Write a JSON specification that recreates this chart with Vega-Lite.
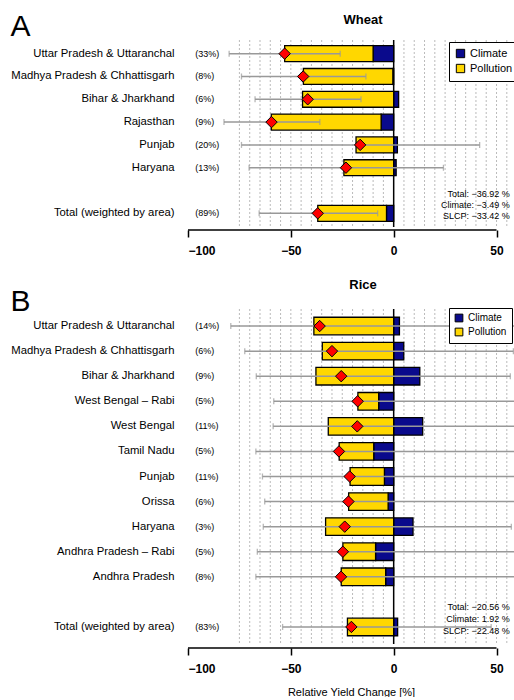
{
  "$schema": "https://vega.github.io/schema/vega-lite/v6.json",
  "padding": {"left": 10, "top": 11, "right": 0, "bottom": 0},
  "background": "white",
  "config": {"font": "Liberation Sans", "view": {"stroke": null}, "axis": {"grid": false}},
  "datasets": {
    "wheat": [
      {"region": "Uttar Pradesh & Uttaranchal", "pct": "(33%)", "Climate": -10, "Pollution": -43, "total": -53, "lo": -80, "hi": -26},
      {"region": "Madhya Pradesh & Chhattisgarh", "pct": "(8%)", "Climate": -0.4, "Pollution": -43.5, "total": -44, "lo": -74, "hi": -13.5},
      {"region": "Bihar & Jharkhand", "pct": "(6%)", "Climate": 2.4, "Pollution": -44.3, "total": -41.8, "lo": -67.4, "hi": -15.9},
      {"region": "Rajasthan", "pct": "(9%)", "Climate": -6.1, "Pollution": -53.4, "total": -59.4, "lo": -82.5, "hi": -35.9},
      {"region": "Punjab", "pct": "(20%)", "Climate": 1.8, "Pollution": -18.3, "total": -16.3, "lo": -74, "hi": 41.8},
      {"region": "Haryana", "pct": "(13%)", "Climate": 1.2, "Pollution": -24.2, "total": -23.2, "lo": -70.3, "hi": 24.2},
      {"region": "Total (weighted by area)", "pct": "(89%)", "Climate": -3.49, "Pollution": -33.42, "total": -36.92, "lo": -65.4, "hi": -7.8}
    ],
    "rice": [
      {"region": "Uttar Pradesh & Uttaranchal", "pct": "(14%)", "Climate": 2.8, "Pollution": -38.8, "total": -36, "lo": -79.2, "hi": 65},
      {"region": "Madhya Pradesh & Chhattisgarh", "pct": "(6%)", "Climate": 4.9, "Pollution": -34.7, "total": -30, "lo": -72.4, "hi": 58.2},
      {"region": "Bihar & Jharkhand", "pct": "(9%)", "Climate": 12.7, "Pollution": -37.8, "total": -25.5, "lo": -66.8, "hi": 56.7},
      {"region": "West Bengal – Rabi", "pct": "(5%)", "Climate": -7.3, "Pollution": -10.1, "total": -17.5, "lo": -58.3, "hi": 65},
      {"region": "West Bengal", "pct": "(11%)", "Climate": 14.1, "Pollution": -31.8, "total": -17.7, "lo": -58.6, "hi": 65},
      {"region": "Tamil Nadu", "pct": "(5%)", "Climate": -9.7, "Pollution": -16.8, "total": -26.6, "lo": -67, "hi": 65},
      {"region": "Punjab", "pct": "(11%)", "Climate": -4.5, "Pollution": -16.7, "total": -21.4, "lo": -63.8, "hi": 65},
      {"region": "Orissa", "pct": "(6%)", "Climate": -2.7, "Pollution": -19.2, "total": -22, "lo": -62.7, "hi": 65},
      {"region": "Haryana", "pct": "(3%)", "Climate": 9.4, "Pollution": -33.1, "total": -23.8, "lo": -63.4, "hi": 57.2},
      {"region": "Andhra Pradesh – Rabi", "pct": "(5%)", "Climate": -8.8, "Pollution": -15.9, "total": -24.7, "lo": -66.3, "hi": 65},
      {"region": "Andhra Pradesh", "pct": "(8%)", "Climate": -3.9, "Pollution": -21.6, "total": -25.6, "lo": -67, "hi": 65},
      {"region": "Total (weighted by area)", "pct": "(83%)", "Climate": 1.92, "Pollution": -22.48, "total": -20.56, "lo": -54, "hi": 47.4}
    ],
    "grid": [
      {"g": -75}, {"g": -70}, {"g": -65}, {"g": -60}, {"g": -55}, {"g": -50}, {"g": -45}, {"g": -40}, {"g": -35}, {"g": -30}, {"g": -25}, {"g": -20}, {"g": -15}, {"g": -10}, {"g": -5},
      {"g": 5}, {"g": 10}, {"g": 15}, {"g": 20}, {"g": 25}, {"g": 30}, {"g": 35}, {"g": 40}, {"g": 45}, {"g": 50}, {"g": 55}
    ]
  },
  "vconcat": [
    {
      "width": 326,
      "height": 187,
      "title": {"text": "Wheat", "fontSize": 13, "fontWeight": "bold", "dx": 12, "offset": -16},
      "layer": [
        {
          "data": {"name": "grid"},
          "mark": {"type": "rule", "color": "#aaaaaa", "strokeDash": [2, 2], "strokeWidth": 0.8},
          "encoding": {"x": {"field": "g", "type": "quantitative", "scale": {"domain": [-100, 58.5], "nice": false, "zero": false}, "axis": {"values": [-100, -50, 0, 50], "title": null, "domain": false, "tickColor": "black", "tickWidth": 1.5, "tickSize": 7, "offset": 3, "labelFontSize": 12, "labelFontWeight": "bold", "labelColor": "black", "labelPadding": 8}}}
        },
        {
          "data": {"values": [{}]},
          "mark": {"type": "rule", "color": "black", "strokeWidth": 1.5},
          "encoding": {"x": {"datum": 0}}
        },
        {
          "data": {"values": [{}]},
          "mark": {"type": "rule", "color": "black", "strokeWidth": 1.5, "yOffset": 3},
          "encoding": {"x": {"datum": -100}, "x2": {"datum": 50}, "y": {"value": "height"}}
        },
        {
          "data": {"name": "wheat"},
          "transform": [{"fold": ["Climate", "Pollution"], "as": ["comp", "val"]}],
          "mark": {"type": "bar", "stroke": "black", "strokeWidth": 1.3},
          "encoding": {
            "y": {"field": "region", "type": "nominal", "scale": {"domain": ["Uttar Pradesh & Uttaranchal", "Madhya Pradesh & Chhattisgarh", "Bihar & Jharkhand", "Rajasthan", "Punjab", "Haryana", " ", "Total (weighted by area)"], "paddingInner": 0.3, "paddingOuter": 0.25}, "axis": {"title": "A", "titleFontSize": 30, "titleFontWeight": "normal", "titleAngle": 0, "titleAlign": "left", "titleBaseline": "alphabetic", "titleX": -178, "titleY": -5, "domain": false, "ticks": false, "labelPadding": 14, "labelFontSize": 11.3, "labelColor": "black"}},
            "x": {"field": "val", "type": "quantitative", "stack": "zero"},
            "color": {"field": "comp", "type": "nominal", "scale": {"domain": ["Climate", "Pollution"], "range": ["#0A0A8C", "#FFD700"]}, "legend": {"title": null, "orient": "none", "legendX": 261, "legendY": 2, "strokeColor": "black", "fillColor": "white", "padding": 6, "symbolType": "square", "symbolSize": 70, "symbolStrokeColor": "black", "symbolStrokeWidth": 1, "symbolOpacity": 1, "labelFontSize": 11, "labelColor": "black", "rowPadding": 2}}
          }
        },
        {
          "data": {"name": "wheat"},
          "mark": {"type": "rule", "color": "#999999", "strokeWidth": 1.5, "clip": true},
          "encoding": {"y": {"field": "region", "type": "nominal"}, "x": {"field": "lo", "type": "quantitative"}, "x2": {"field": "hi"}}
        },
        {
          "data": {"name": "wheat"},
          "transform": [{"fold": ["lo", "hi"], "as": ["end", "ev"]}],
          "mark": {"type": "tick", "color": "#999999", "thickness": 1.3, "size": 6, "clip": true},
          "encoding": {"y": {"field": "region", "type": "nominal"}, "x": {"field": "ev", "type": "quantitative"}}
        },
        {
          "data": {"name": "wheat"},
          "mark": {"type": "point", "shape": "diamond", "filled": true, "fill": "#FF0000", "stroke": "black", "strokeWidth": 1, "size": 130, "opacity": 1},
          "encoding": {"y": {"field": "region", "type": "nominal"}, "x": {"field": "total", "type": "quantitative"}}
        },
        {
          "data": {"name": "wheat"},
          "mark": {"type": "text", "align": "left", "baseline": "middle", "fontSize": 9, "color": "black"},
          "encoding": {"y": {"field": "region", "type": "nominal"}, "x": {"datum": -96.5}, "text": {"field": "pct"}}
        },
        {
          "data": {"values": [{"region": "Total (weighted by area)", "txt": "Total:  −36.92 %\nClimate:  −3.49 %\nSLCP:  −33.42 %"}]},
          "mark": {"type": "text", "align": "right", "baseline": "middle", "fontSize": 9, "lineHeight": 11, "lineBreak": "\n", "yOffset": -19, "color": "black"},
          "encoding": {"y": {"field": "region", "type": "nominal"}, "x": {"datum": 56.4}, "text": {"field": "txt"}}
        }
      ]
    },
    {
      "width": 326,
      "height": 335,
      "title": {"text": "Rice", "fontSize": 13, "fontWeight": "bold", "dx": 12, "offset": -6},
      "layer": [
        {
          "data": {"name": "grid"},
          "mark": {"type": "rule", "color": "#aaaaaa", "strokeDash": [2, 2], "strokeWidth": 0.8},
          "encoding": {"x": {"field": "g", "type": "quantitative", "scale": {"domain": [-100, 58.5], "nice": false, "zero": false}, "axis": {"values": [-100, -50, 0, 50], "title": "Relative Yield Change [%]", "titleFontSize": 11, "titleFontWeight": "normal", "titlePadding": 12, "domain": false, "tickColor": "black", "tickWidth": 1.5, "tickSize": 7, "offset": 4, "labelFontSize": 12, "labelFontWeight": "bold", "labelColor": "black", "labelPadding": 8}}}
        },
        {
          "data": {"values": [{}]},
          "mark": {"type": "rule", "color": "black", "strokeWidth": 1.5},
          "encoding": {"x": {"datum": 0}}
        },
        {
          "data": {"values": [{}]},
          "mark": {"type": "rule", "color": "black", "strokeWidth": 1.5, "yOffset": 4},
          "encoding": {"x": {"datum": -100}, "x2": {"datum": 50}, "y": {"value": "height"}}
        },
        {
          "data": {"name": "rice"},
          "transform": [{"fold": ["Climate", "Pollution"], "as": ["comp", "val"]}],
          "mark": {"type": "bar", "stroke": "black", "strokeWidth": 1.3},
          "encoding": {
            "y": {"field": "region", "type": "nominal", "scale": {"domain": ["Uttar Pradesh & Uttaranchal", "Madhya Pradesh & Chhattisgarh", "Bihar & Jharkhand", "West Bengal – Rabi", "West Bengal", "Tamil Nadu", "Punjab", "Orissa", "Haryana", "Andhra Pradesh – Rabi", "Andhra Pradesh", " ", "Total (weighted by area)"], "paddingInner": 0.3, "paddingOuter": 0.33}, "axis": {"title": "B", "titleFontSize": 30, "titleFontWeight": "normal", "titleAngle": 0, "titleAlign": "left", "titleBaseline": "alphabetic", "titleX": -178, "titleY": 1, "domain": false, "ticks": false, "labelPadding": 14, "labelFontSize": 11.3, "labelColor": "black"}},
            "x": {"field": "val", "type": "quantitative", "stack": "zero"},
            "color": {"field": "comp", "type": "nominal", "scale": {"domain": ["Climate", "Pollution"], "range": ["#0A0A8C", "#FFD700"]}, "legend": {"title": null, "orient": "none", "legendX": 261, "legendY": -1, "strokeColor": "black", "fillColor": "white", "padding": 5, "symbolType": "square", "symbolSize": 60, "symbolStrokeColor": "black", "symbolStrokeWidth": 1, "symbolOpacity": 1, "labelFontSize": 10, "labelColor": "black", "rowPadding": 2}}
          }
        },
        {
          "data": {"name": "rice"},
          "mark": {"type": "rule", "color": "#999999", "strokeWidth": 1.5, "clip": true},
          "encoding": {"y": {"field": "region", "type": "nominal"}, "x": {"field": "lo", "type": "quantitative"}, "x2": {"field": "hi"}}
        },
        {
          "data": {"name": "rice"},
          "transform": [{"fold": ["lo", "hi"], "as": ["end", "ev"]}],
          "mark": {"type": "tick", "color": "#999999", "thickness": 1.3, "size": 6, "clip": true},
          "encoding": {"y": {"field": "region", "type": "nominal"}, "x": {"field": "ev", "type": "quantitative"}}
        },
        {
          "data": {"name": "rice"},
          "mark": {"type": "point", "shape": "diamond", "filled": true, "fill": "#FF0000", "stroke": "black", "strokeWidth": 1, "size": 130, "opacity": 1},
          "encoding": {"y": {"field": "region", "type": "nominal"}, "x": {"field": "total", "type": "quantitative"}}
        },
        {
          "data": {"name": "rice"},
          "mark": {"type": "text", "align": "left", "baseline": "middle", "fontSize": 9, "color": "black"},
          "encoding": {"y": {"field": "region", "type": "nominal"}, "x": {"datum": -96.5}, "text": {"field": "pct"}}
        },
        {
          "data": {"values": [{"region": "Total (weighted by area)", "txt": "Total:  −20.56 %\nClimate:  1.92 %\nSLCP:  −22.48 %"}]},
          "mark": {"type": "text", "align": "right", "baseline": "middle", "fontSize": 9, "lineHeight": 12, "lineBreak": "\n", "yOffset": -20, "color": "black"},
          "encoding": {"y": {"field": "region", "type": "nominal"}, "x": {"datum": 56.4}, "text": {"field": "txt"}}
        }
      ]
    }
  ],
  "spacing": 23,
  "resolve": {"scale": {"color": "independent"}, "legend": {"color": "independent"}}
}
